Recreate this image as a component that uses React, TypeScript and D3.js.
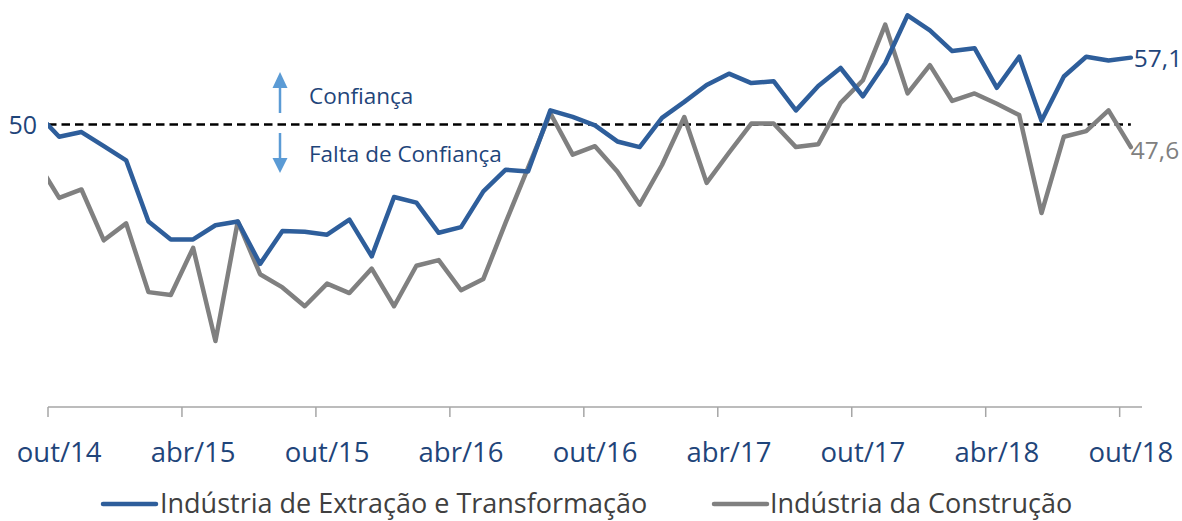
import React from "react";
import * as d3 from "d3";

// Monthly categories (set/14 is the partially clipped point before the axis start)
const categories = [
  "set/14", "out/14", "nov/14", "dez/14", "jan/15", "fev/15", "mar/15", "abr/15", "mai/15", "jun/15",
  "jul/15", "ago/15", "set/15", "out/15", "nov/15", "dez/15", "jan/16", "fev/16", "mar/16", "abr/16",
  "mai/16", "jun/16", "jul/16", "ago/16", "set/16", "out/16", "nov/16", "dez/16", "jan/17", "fev/17",
  "mar/17", "abr/17", "mai/17", "jun/17", "jul/17", "ago/17", "set/17", "out/17", "nov/17", "dez/17",
  "jan/18", "fev/18", "mar/18", "abr/18", "mai/18", "jun/18", "jul/18", "ago/18", "set/18", "out/18",
];

const extracao = [
  51.2, 48.7, 49.2, 47.7, 46.2, 39.7, 37.8, 37.8, 39.3, 39.7,
  35.2, 38.7, 38.6, 38.3, 39.9, 36.0, 42.3, 41.7, 38.5, 39.1,
  42.9, 45.2, 45.0, 51.5, 50.8, 49.9, 48.2, 47.6, 50.7, 52.4,
  54.2, 55.4, 54.4, 54.6, 51.5, 54.1, 56.0, 53.0, 56.5, 61.6,
  60.0, 57.8, 58.1, 53.9, 57.2, 50.4, 55.1, 57.2, 56.8, 57.1,
];

const construcao = [
  46.1, 42.2, 43.1, 37.7, 39.5, 32.2, 31.9, 36.9, 27.0, 39.7,
  34.1, 32.7, 30.7, 33.1, 32.1, 34.7, 30.7, 35.0, 35.6, 32.4,
  33.6, 39.6, 45.4, 51.2, 46.8, 47.7, 45.0, 41.5, 45.7, 50.8,
  43.8, 47.0, 50.1, 50.1, 47.6, 47.9, 52.3, 54.7, 60.6, 53.3,
  56.3, 52.5, 53.3, 52.2, 51.0, 40.6, 48.7, 49.3, 51.5, 47.6,
];

const tickLabels = ["out/14", "abr/15", "out/15", "abr/16", "out/16", "abr/17", "out/17", "abr/18", "out/18"];
const referenceValue = 50;
const seriesNames = ["Indústria de Extração e Transformação", "Indústria da Construção"];
const lastLabels = ["57,1", "47,6"];

const FONT = "'Open Sans', 'Noto Sans', sans-serif";
const BLUE = "#2E5E9B";
const GRAY = "#808080";
const TEXT_BLUE = "#1F457A";

export default function App() {
  const plotLeft = 48;
  const plotRight = 1142;
  const step = (plotRight - plotLeft) / 49;
  const x = d3
    .scaleBand<string>()
    .domain(categories)
    .range([plotLeft - step, plotRight])
    .paddingInner(0)
    .paddingOuter(0);
  const cx = (c: string) => (x(c) as number) + x.bandwidth() / 2;
  const y = d3.scaleLinear().domain([20, 50]).range([407, 124.5]);

  const line = d3
    .line<number>()
    .x((_, i) => cx(categories[i]))
    .y((d) => y(d));

  const lastCat = categories[categories.length - 1];
  const lastX = cx(lastCat);

  return (
    <svg
      width={1182}
      height={521}
      style={{ position: "absolute", left: 0, top: 0, background: "#fff" }}
      fontFamily={FONT}
    >
      <defs>
        <clipPath id="plotClip">
          <rect x={plotLeft} y={0} width={plotRight - plotLeft + 20} height={410} />
        </clipPath>
      </defs>

      {/* x axis */}
      <line x1={plotLeft} x2={plotRight} y1={y(20)} y2={y(20)} stroke="#A6A6A6" strokeWidth={1.5} />
      {tickLabels.map((t) => (
        <g key={t}>
          <line x1={x(t)} x2={x(t)} y1={y(20)} y2={y(20) + 10} stroke="#A6A6A6" strokeWidth={1.5} />
          <text x={cx(t)} y={462} textAnchor="middle" fontSize={27.5} fill={TEXT_BLUE}>
            {t}
          </text>
        </g>
      ))}

      {/* reference line at 50 */}
      <line
        x1={plotLeft}
        x2={lastX}
        y1={y(referenceValue)}
        y2={y(referenceValue)}
        stroke="#000"
        strokeWidth={2.4}
        strokeDasharray="8.5,5"
      />
      <text x={37} y={y(referenceValue) + 9} textAnchor="end" fontSize={25} fill={TEXT_BLUE}>
        50
      </text>

      {/* arrows */}
      <g fill="#5B9BD5" stroke="#5B9BD5">
        <line x1={280} x2={280} y1={86} y2={113} strokeWidth={2.5} />
        <path d="M280,72 L287.5,88 L272.5,88 Z" stroke="none" />
        <line x1={280} x2={280} y1={133} y2={160} strokeWidth={2.5} />
        <path d="M280,173 L287.5,158 L272.5,158 Z" stroke="none" />
      </g>
      <text x={309} y={104} fontSize={22.5} fill={TEXT_BLUE}>
        Confiança
      </text>
      <text x={309} y={162} fontSize={22.5} fill={TEXT_BLUE}>
        Falta de Confiança
      </text>

      {/* series */}
      <g clipPath="url(#plotClip)" fill="none" strokeLinejoin="round" strokeLinecap="round">
        <path d={line(construcao) || ""} stroke={GRAY} strokeWidth={4.5} />
        <path d={line(extracao) || ""} stroke={BLUE} strokeWidth={4.5} />
      </g>

      {/* end labels */}
      <text x={lastX + 3} y={y(extracao[extracao.length - 1]) + 9} fontSize={24.5} fill={TEXT_BLUE}>
        {lastLabels[0]}
      </text>
      <text x={lastX} y={y(construcao[construcao.length - 1]) + 12} fontSize={24.5} fill={GRAY}>
        {lastLabels[1]}
      </text>

      {/* legend */}
      <line x1={103} x2={156} y1={504} y2={504} stroke={BLUE} strokeWidth={4.5} strokeLinecap="round" />
      <text x={160} y={513} fontSize={27} fill="#404040">
        {seriesNames[0]}
      </text>
      <line x1={714} x2={767} y1={504} y2={504} stroke={GRAY} strokeWidth={4.5} strokeLinecap="round" />
      <text x={770} y={513} fontSize={27} fill="#404040">
        {seriesNames[1]}
      </text>
    </svg>
  );
}
